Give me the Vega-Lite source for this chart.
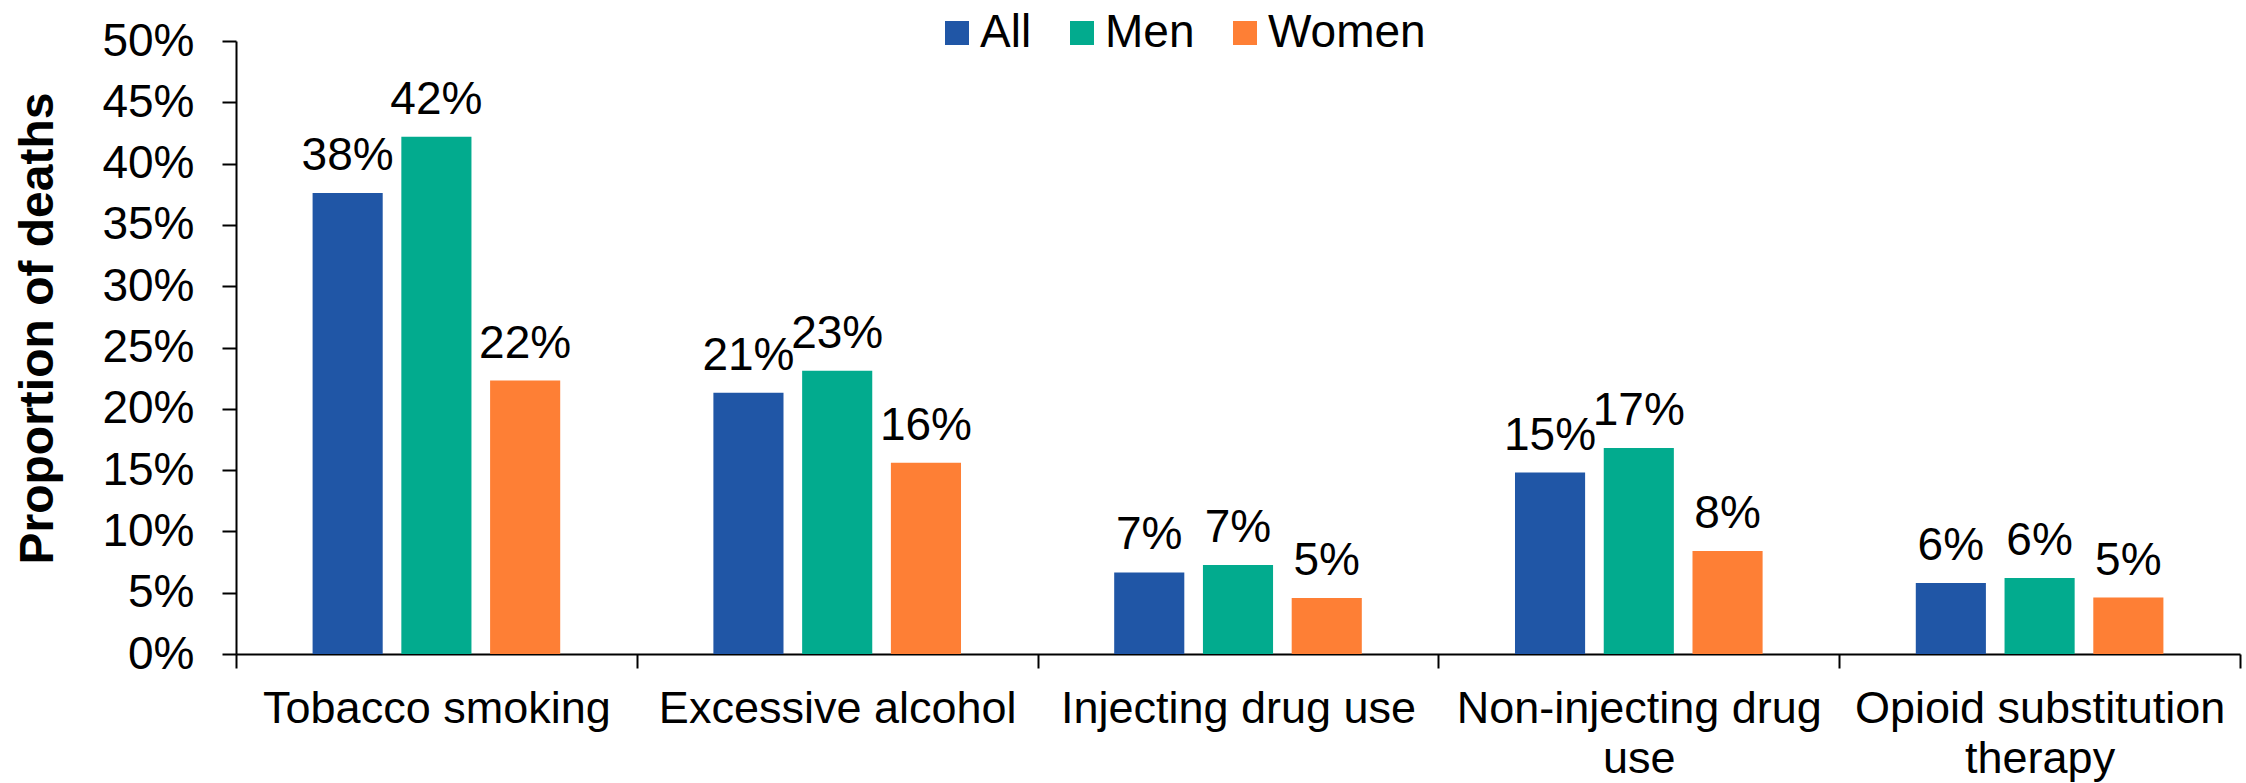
{
  "$schema": "https://vega.github.io/schema/vega-lite/v6.json",
  "width": 2004,
  "height": 613,
  "autosize": {"type": "none"},
  "padding": {"left": 236, "top": 41, "right": 6, "bottom": 129},
  "background": "white",
  "config": {
    "view": {"stroke": null},
    "font": "Liberation Sans"
  },
  "data": {
    "values": [
      {"factor": "Tobacco smoking", "group": "All", "share": 0.376},
      {"factor": "Tobacco smoking", "group": "Men", "share": 0.422},
      {"factor": "Tobacco smoking", "group": "Women", "share": 0.223},
      {"factor": "Excessive alcohol", "group": "All", "share": 0.213},
      {"factor": "Excessive alcohol", "group": "Men", "share": 0.231},
      {"factor": "Excessive alcohol", "group": "Women", "share": 0.156},
      {"factor": "Injecting drug use", "group": "All", "share": 0.0665},
      {"factor": "Injecting drug use", "group": "Men", "share": 0.0726},
      {"factor": "Injecting drug use", "group": "Women", "share": 0.0457},
      {"factor": "Non-injecting drug use", "group": "All", "share": 0.148},
      {"factor": "Non-injecting drug use", "group": "Men", "share": 0.168},
      {"factor": "Non-injecting drug use", "group": "Women", "share": 0.084},
      {"factor": "Opioid substitution therapy", "group": "All", "share": 0.058},
      {"factor": "Opioid substitution therapy", "group": "Men", "share": 0.062},
      {"factor": "Opioid substitution therapy", "group": "Women", "share": 0.046}
    ]
  },
  "encoding": {
    "x": {
      "field": "factor",
      "type": "nominal",
      "sort": ["Tobacco smoking", "Excessive alcohol", "Injecting drug use", "Non-injecting drug use", "Opioid substitution therapy"],
      "scale": {"paddingInner": 0, "paddingOuter": 0},
      "axis": {
        "title": null,
        "labelAngle": 0,
        "labelFontSize": 45,
        "labelColor": "black",
        "labelPadding": 18,
        "labelLineHeight": 50,
        "labelLimit": 1000,
        "labelExpr": "datum.value == 'Non-injecting drug use' ? ['Non-injecting drug', 'use'] : datum.value == 'Opioid substitution therapy' ? ['Opioid substitution', 'therapy'] : datum.value",
        "tickBand": "extent",
        "tickSize": 14,
        "tickWidth": 2,
        "tickColor": "black",
        "domainColor": "black",
        "domainWidth": 2,
        "grid": false
      }
    },
    "xOffset": {
      "field": "group",
      "type": "nominal",
      "sort": ["All", "Men", "Women"],
      "scale": {"paddingInner": 0.21, "paddingOuter": 0.863}
    },
    "y": {
      "field": "share",
      "type": "quantitative",
      "scale": {"domain": [0, 0.5], "nice": false},
      "axis": {
        "values": [0, 0.05, 0.1, 0.15, 0.2, 0.25, 0.3, 0.35, 0.4, 0.45, 0.5],
        "format": ".0%",
        "grid": false,
        "labelFontSize": 46,
        "labelColor": "black",
        "labelPadding": 28,
        "tickSize": 14,
        "tickWidth": 2,
        "tickColor": "black",
        "domainColor": "black",
        "domainWidth": 2,
        "title": "Proportion of deaths",
        "titleFontSize": 48,
        "titleFontWeight": "bold",
        "titleColor": "black",
        "titlePadding": 39,
        "titleY": 287
      }
    }
  },
  "layer": [
    {
      "mark": {"type": "bar"},
      "encoding": {
        "color": {
          "field": "group",
          "type": "nominal",
          "scale": {"domain": ["All", "Men", "Women"], "range": ["#2056A6", "#02AB8E", "#FE7F35"]},
          "legend": {
            "title": null,
            "orient": "none",
            "legendX": 698,
            "legendY": -31,
            "direction": "horizontal",
            "symbolType": "square",
            "symbolSize": 576,
            "symbolStrokeWidth": 0,
            "labelFontSize": 46,
            "labelColor": "black",
            "labelOffset": 0,
            "columnPadding": 27,
            "padding": 0
          }
        }
      }
    },
    {
      "mark": {"type": "text", "baseline": "alphabetic", "dy": -23, "fontSize": 46, "color": "black"},
      "encoding": {
        "text": {"field": "share", "type": "quantitative", "format": ".0%"}
      }
    }
  ]
}
